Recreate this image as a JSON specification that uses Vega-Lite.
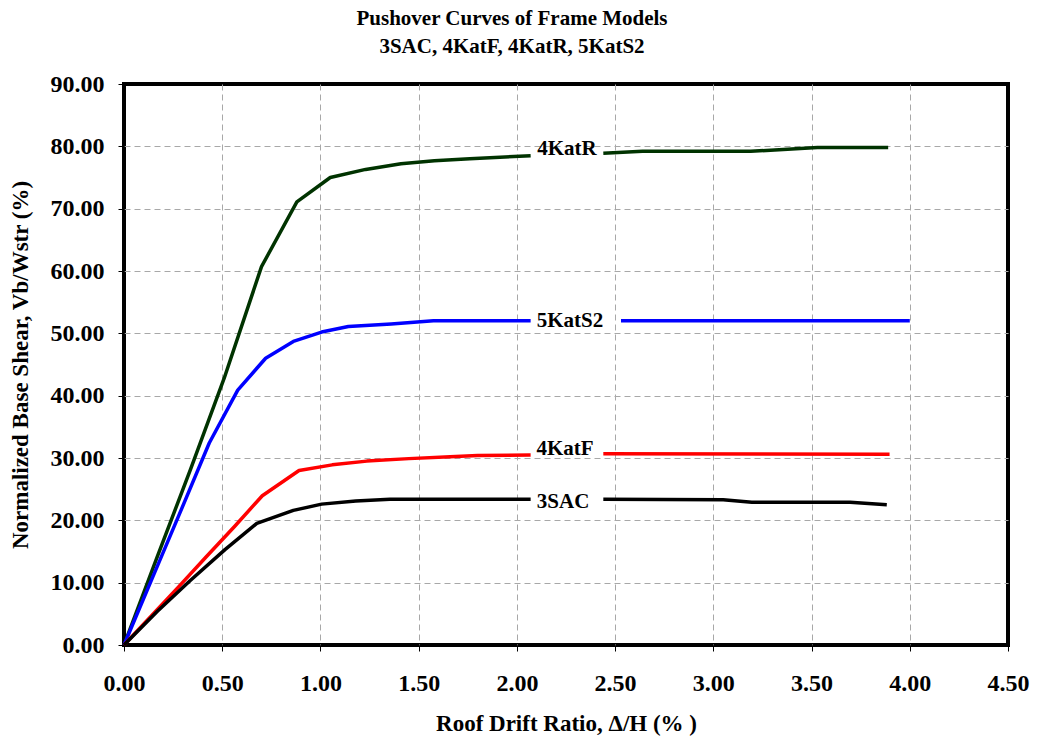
{
  "$schema": "https://vega.github.io/schema/vega-lite/v6.json",
  "autosize": "none",
  "width": 884,
  "height": 561,
  "padding": {"left": 124, "top": 84, "right": 31, "bottom": 97},
  "background": "white",
  "title": {
    "text": ["Pushover Curves of Frame Models", "3SAC, 4KatF, 4KatR, 5KatS2"],
    "font": "Liberation Serif",
    "fontSize": 21,
    "fontWeight": "bold",
    "color": "black",
    "anchor": "middle",
    "frame": "bounds",
    "lineHeight": 28,
    "offset": 15,
    "dx": -7
  },
  "datasets": {
    "curves": [
      {"model": "4KatR", "part": "a", "drift": 0, "shear": 0},
      {"model": "4KatR", "part": "a", "drift": 0.17, "shear": 14.2},
      {"model": "4KatR", "part": "a", "drift": 0.34, "shear": 28.3},
      {"model": "4KatR", "part": "a", "drift": 0.51, "shear": 42.8},
      {"model": "4KatR", "part": "a", "drift": 0.70, "shear": 60.7},
      {"model": "4KatR", "part": "a", "drift": 0.88, "shear": 71.1},
      {"model": "4KatR", "part": "a", "drift": 1.05, "shear": 75.0},
      {"model": "4KatR", "part": "a", "drift": 1.23, "shear": 76.3},
      {"model": "4KatR", "part": "a", "drift": 1.41, "shear": 77.2},
      {"model": "4KatR", "part": "a", "drift": 1.58, "shear": 77.7},
      {"model": "4KatR", "part": "a", "drift": 1.76, "shear": 78.0},
      {"model": "4KatR", "part": "a", "drift": 2.07, "shear": 78.5},
      {"model": "4KatR", "part": "b", "drift": 2.44, "shear": 78.9},
      {"model": "4KatR", "part": "b", "drift": 2.64, "shear": 79.2},
      {"model": "4KatR", "part": "b", "drift": 3.19, "shear": 79.2},
      {"model": "4KatR", "part": "b", "drift": 3.53, "shear": 79.8},
      {"model": "4KatR", "part": "b", "drift": 3.89, "shear": 79.8},

      {"model": "5KatS2", "part": "a", "drift": 0, "shear": 0},
      {"model": "5KatS2", "part": "a", "drift": 0.145, "shear": 10.8},
      {"model": "5KatS2", "part": "a", "drift": 0.29, "shear": 21.6},
      {"model": "5KatS2", "part": "a", "drift": 0.434, "shear": 32.4},
      {"model": "5KatS2", "part": "a", "drift": 0.579, "shear": 40.9},
      {"model": "5KatS2", "part": "a", "drift": 0.721, "shear": 46.0},
      {"model": "5KatS2", "part": "a", "drift": 0.862, "shear": 48.7},
      {"model": "5KatS2", "part": "a", "drift": 1.006, "shear": 50.2},
      {"model": "5KatS2", "part": "a", "drift": 1.142, "shear": 51.1},
      {"model": "5KatS2", "part": "a", "drift": 1.36, "shear": 51.5},
      {"model": "5KatS2", "part": "a", "drift": 1.575, "shear": 52.0},
      {"model": "5KatS2", "part": "a", "drift": 2.07, "shear": 52.0},
      {"model": "5KatS2", "part": "b", "drift": 2.53, "shear": 52.0},
      {"model": "5KatS2", "part": "b", "drift": 4.0, "shear": 52.0},

      {"model": "4KatF", "part": "a", "drift": 0, "shear": 0},
      {"model": "4KatF", "part": "a", "drift": 0.14, "shear": 4.7},
      {"model": "4KatF", "part": "a", "drift": 0.28, "shear": 9.4},
      {"model": "4KatF", "part": "a", "drift": 0.42, "shear": 14.2},
      {"model": "4KatF", "part": "a", "drift": 0.565, "shear": 19.1},
      {"model": "4KatF", "part": "a", "drift": 0.704, "shear": 23.95},
      {"model": "4KatF", "part": "a", "drift": 0.891, "shear": 28.0},
      {"model": "4KatF", "part": "a", "drift": 1.06, "shear": 28.9},
      {"model": "4KatF", "part": "a", "drift": 1.236, "shear": 29.5},
      {"model": "4KatF", "part": "a", "drift": 1.45, "shear": 29.9},
      {"model": "4KatF", "part": "a", "drift": 1.66, "shear": 30.2},
      {"model": "4KatF", "part": "a", "drift": 1.8, "shear": 30.4},
      {"model": "4KatF", "part": "a", "drift": 2.07, "shear": 30.5},
      {"model": "4KatF", "part": "b", "drift": 2.44, "shear": 30.7},
      {"model": "4KatF", "part": "b", "drift": 3.897, "shear": 30.6},

      {"model": "3SAC", "part": "a", "drift": 0, "shear": 0},
      {"model": "3SAC", "part": "a", "drift": 0.17, "shear": 5.4},
      {"model": "3SAC", "part": "a", "drift": 0.336, "shear": 10.3},
      {"model": "3SAC", "part": "a", "drift": 0.514, "shear": 15.3},
      {"model": "3SAC", "part": "a", "drift": 0.676, "shear": 19.5},
      {"model": "3SAC", "part": "a", "drift": 0.862, "shear": 21.6},
      {"model": "3SAC", "part": "a", "drift": 1.006, "shear": 22.6},
      {"model": "3SAC", "part": "a", "drift": 1.18, "shear": 23.1},
      {"model": "3SAC", "part": "a", "drift": 1.354, "shear": 23.4},
      {"model": "3SAC", "part": "a", "drift": 1.66, "shear": 23.4},
      {"model": "3SAC", "part": "a", "drift": 2.07, "shear": 23.4},
      {"model": "3SAC", "part": "b", "drift": 2.44, "shear": 23.4},
      {"model": "3SAC", "part": "b", "drift": 3.05, "shear": 23.3},
      {"model": "3SAC", "part": "b", "drift": 3.196, "shear": 22.9},
      {"model": "3SAC", "part": "b", "drift": 3.696, "shear": 22.9},
      {"model": "3SAC", "part": "b", "drift": 3.883, "shear": 22.5}
    ],
    "names": [
      {"model": "4KatR", "drift": 2.255, "shear": 79.6},
      {"model": "5KatS2", "drift": 2.27, "shear": 51.9},
      {"model": "4KatF", "drift": 2.245, "shear": 31.4},
      {"model": "3SAC", "drift": 2.235, "shear": 23.0}
    ]
  },
  "encoding": {
    "x": {
      "field": "drift",
      "type": "quantitative",
      "scale": {"domain": [0, 4.5], "nice": false, "zero": false},
      "axis": {
        "title": "Roof Drift Ratio, Δ/H (% )",
        "values": [0, 0.5, 1, 1.5, 2, 2.5, 3, 3.5, 4, 4.5],
        "format": ".2f",
        "labelFlush": false,
        "labelPadding": 20,
        "gridOpacity": {"condition": {"test": "datum.value <= 0 || datum.value >= 4.5", "value": 0}, "value": 1},
        "titleX": 442,
        "titleY": 78,
        "titleBaseline": "middle"
      }
    },
    "y": {
      "field": "shear",
      "type": "quantitative",
      "scale": {"domain": [0, 90], "nice": false},
      "axis": {
        "title": "Normalized Base Shear, Vb/Wstr (%)",
        "values": [0, 10, 20, 30, 40, 50, 60, 70, 80, 90],
        "format": ".2f",
        "labelFlush": false,
        "labelPadding": 14,
        "gridOpacity": {"condition": {"test": "datum.value <= 0 || datum.value >= 90", "value": 0}, "value": 1},
        "titleX": -104,
        "titleY": 280.5,
        "titleBaseline": "middle",
        "titleAngle": -90
      }
    }
  },
  "layer": [
    {
      "data": {"name": "curves"},
      "mark": {"type": "line", "strokeWidth": 3.5, "strokeJoin": "round", "strokeCap": "butt"},
      "encoding": {
        "color": {
          "field": "model",
          "type": "nominal",
          "scale": {"domain": ["4KatR", "5KatS2", "4KatF", "3SAC"], "range": ["#003300", "#0000FF", "#FF0000", "#000000"]},
          "legend": null
        },
        "detail": {"field": "part"}
      }
    },
    {
      "data": {"name": "names"},
      "mark": {"type": "text", "font": "Liberation Serif", "fontSize": 21, "fontWeight": "bold", "color": "black", "align": "center", "baseline": "middle"},
      "encoding": {
        "text": {"field": "model"}
      }
    }
  ],
  "config": {
    "view": {"stroke": "black", "strokeWidth": 4},
    "axis": {
      "domain": false,
      "grid": true,
      "gridColor": "#a8a8a8",
      "gridDash": [6, 4],
      "gridWidth": 1,
      "ticks": true,
      "tickColor": "black",
      "tickWidth": 1,
      "tickSize": 6,
      "labelFont": "Liberation Serif",
      "labelFontSize": 24,
      "labelFontWeight": "bold",
      "labelColor": "black",
      "titleFont": "Liberation Serif",
      "titleFontSize": 23,
      "titleFontWeight": "bold",
      "titleColor": "black"
    }
  }
}
